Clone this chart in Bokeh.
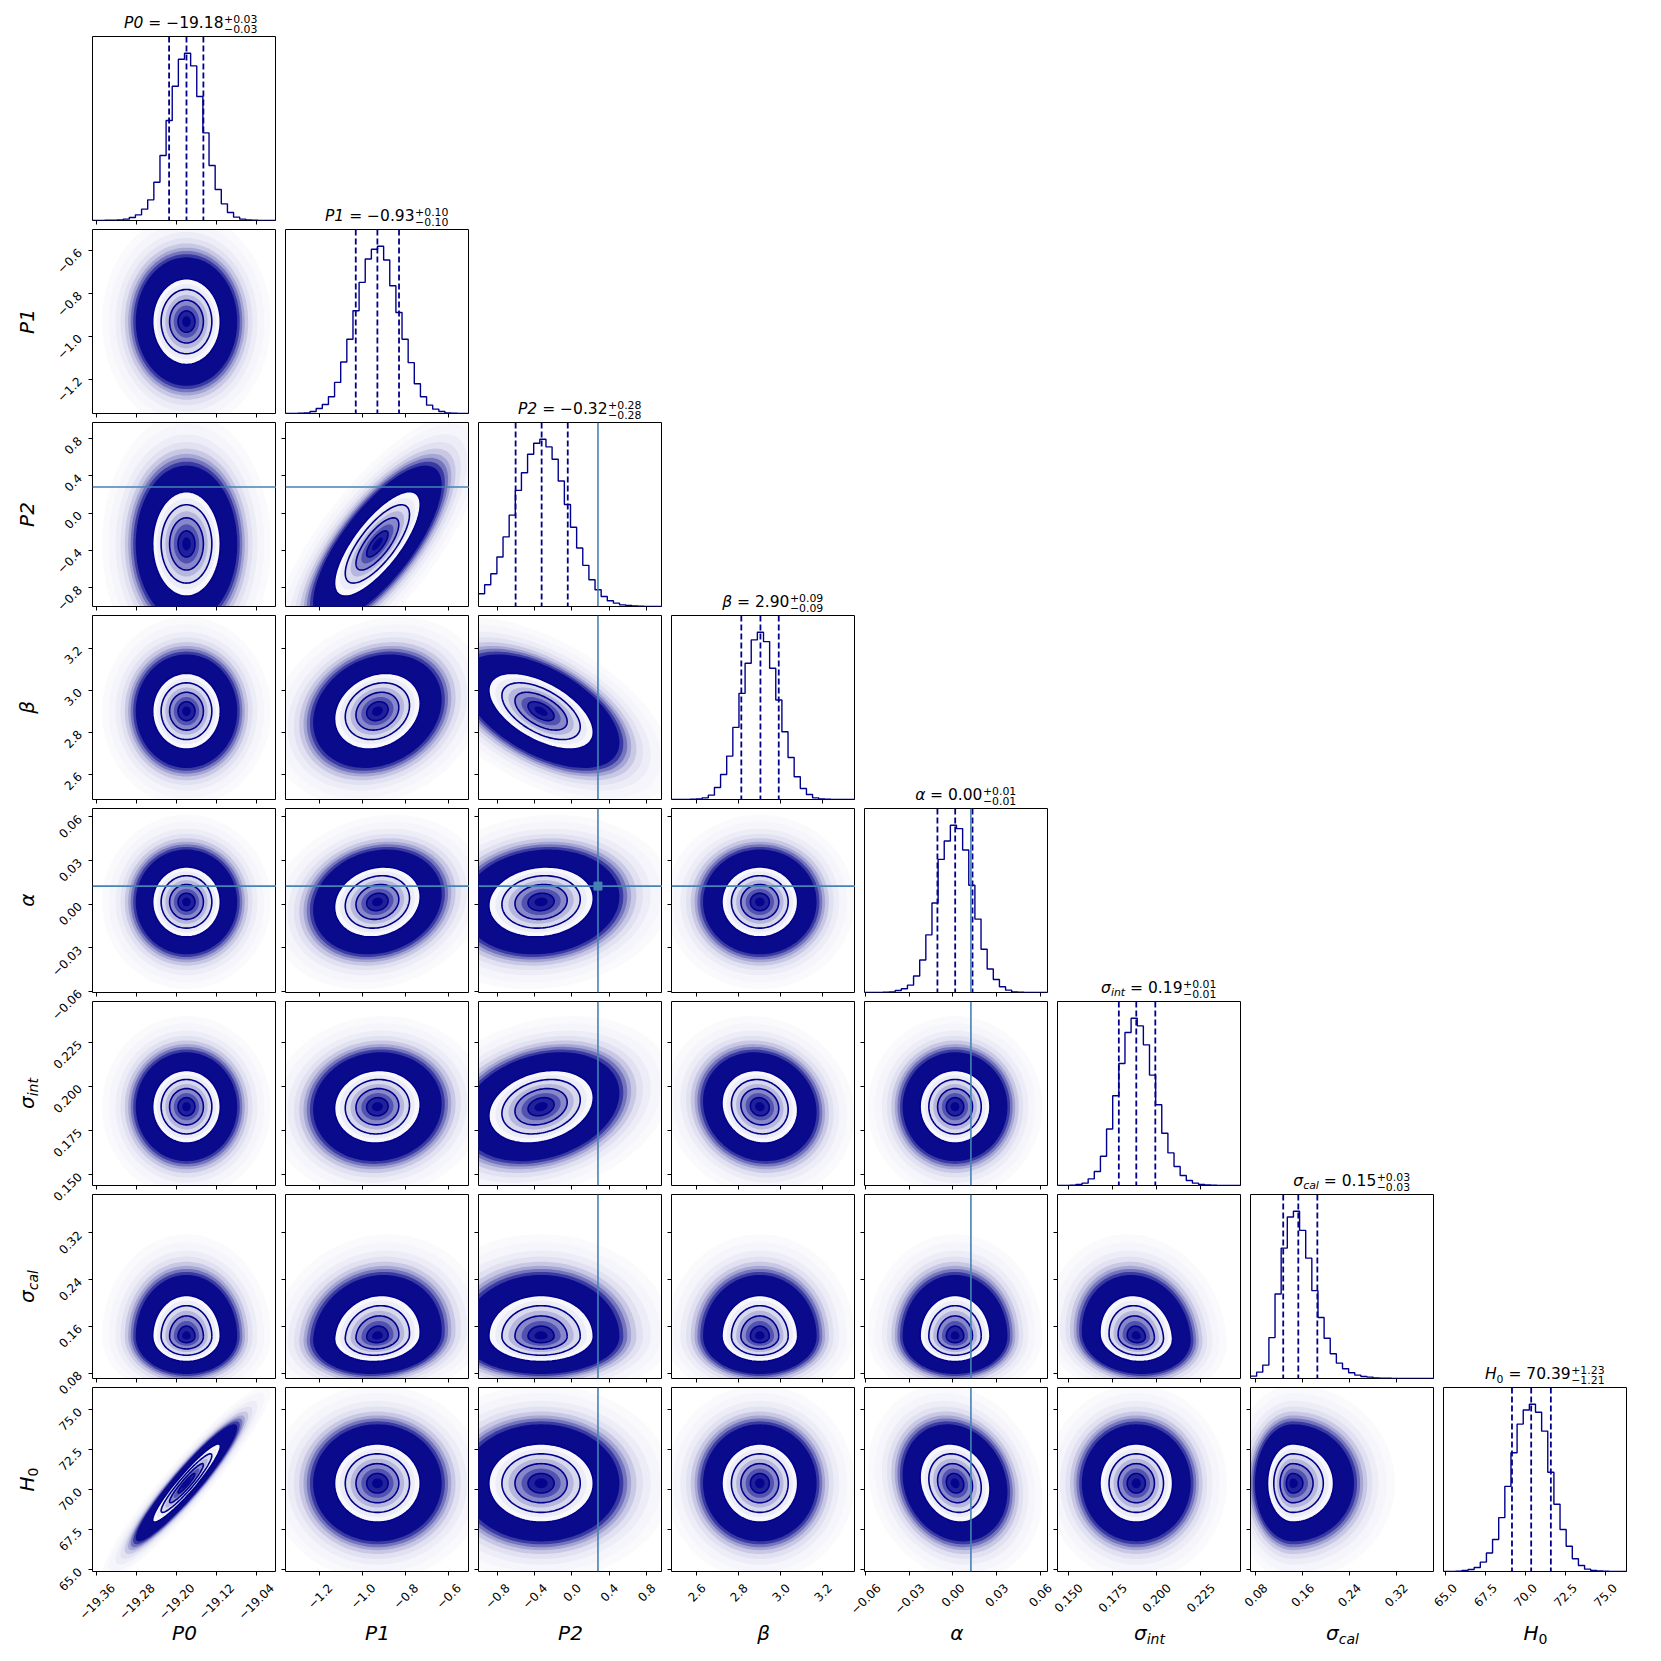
import math
import numpy as np
from bokeh.plotting import figure
from bokeh.models import GridBox, Range1d, FixedTicker, CustomJSTickFormatter, Span
from bokeh.core.properties import value
from bokeh.embed import file_html
from bokeh.resources import INLINE

# ------------------------------------------------------------------ data
PARAMS = ["P0", "P1", "P2", "beta", "alpha", "sigma_int", "sigma_cal", "H0"]
# label text: (text, style, role) ; role "sub" = subscript
LABEL_PIECES = [
    [("P0", "italic", "main")],
    [("P1", "italic", "main")],
    [("P2", "italic", "main")],
    [("β", "italic", "main")],
    [("α", "italic", "main")],
    [("σ", "italic", "main"), ("int", "italic", "sub")],
    [("σ", "italic", "main"), ("cal", "italic", "sub")],
    [("H", "italic", "main"), ("0", "normal", "sub")],
]
LO = [-19.369, -1.361, -1.001, 2.480, -0.0607, 0.1438, 0.0709, 64.89]
HI = [-18.999, -0.502, 0.972, 3.355, 0.0657, 0.2482, 0.3858, 76.39]

TICKS = [
    [-19.36, -19.28, -19.20, -19.12, -19.04],
    [-1.2, -1.0, -0.8, -0.6],
    [-0.8, -0.4, 0.0, 0.4, 0.8],
    [2.6, 2.8, 3.0, 3.2],
    [-0.06, -0.03, 0.0, 0.03, 0.06],
    [0.150, 0.175, 0.200, 0.225],
    [0.08, 0.16, 0.24, 0.32],
    [65.0, 67.5, 70.0, 72.5, 75.0],
]
TICK_DEC = [2, 1, 1, 1, 2, 3, 2, 1]

HIST_P0 = [0, 0, 1, 1, 2, 4, 9, 17, 34, 62, 115, 195, 300, 403, 484, 502, 464, 372, 263, 165, 93, 50, 24, 10, 4, 2, 1, 0, 0, 0]
HIST_P1 = [0, 0, 1, 2, 6, 15, 27, 50, 93, 154, 222, 307, 392, 462, 491, 500, 459, 382, 302, 222, 152, 89, 50, 25, 13, 6, 2, 1, 0, 0]
HIST_P2 = [38, 65, 98, 148, 208, 273, 347, 400, 455, 488, 500, 477, 440, 375, 305, 237, 175, 123, 80, 50, 30, 17, 10, 5, 3, 2, 1, 0, 0, 0]
HIST_BETA = [0, 0, 0, 1, 2, 5, 13, 36, 75, 130, 216, 318, 408, 478, 501, 473, 393, 298, 203, 126, 68, 33, 15, 5, 2, 1, 0, 0, 0, 0]
HIST_ALPHA = [0, 0, 0, 1, 2, 6, 11, 22, 49, 97, 172, 267, 397, 452, 499, 489, 425, 320, 219, 129, 70, 39, 17, 7, 2, 1, 0, 0, 0, 0]
HIST_SINT = [0, 0, 1, 3, 7, 20, 42, 88, 170, 270, 367, 460, 503, 480, 423, 332, 243, 157, 98, 57, 30, 15, 7, 3, 2, 1, 0, 0, 0, 0]
HIST_SCAL = [7, 19, 40, 122, 252, 389, 482, 499, 442, 359, 262, 182, 120, 74, 46, 29, 17, 10, 6, 4, 2, 1, 1, 0, 0, 0, 0, 0, 0, 0]
HIST_H0 = [0, 0, 1, 3, 6, 12, 28, 55, 95, 160, 253, 353, 438, 480, 497, 473, 417, 295, 200, 125, 75, 38, 18, 7, 3, 2, 1, 0, 0, 0]
HISTS = [HIST_P0, HIST_P1, HIST_P2, HIST_BETA, HIST_ALPHA, HIST_SINT, HIST_SCAL, HIST_H0]

Q16 = [-19.215, -1.033, -0.603, 2.812, -0.0106, 0.1786, 0.1269, 69.17]
Q50 = [-19.180, -0.932, -0.324, 2.903, 0.0016, 0.1885, 0.1527, 70.37]
Q84 = [-19.146, -0.831, -0.044, 2.990, 0.0135, 0.1993, 0.1853, 71.60]

TITLE_VAL = ["−19.18", "−0.93", "−0.32", "2.90", "0.00", "0.19", "0.15", "70.39"]
TITLE_PLUS = ["0.03", "0.10", "0.28", "0.09", "0.01", "0.01", "0.03", "1.23"]
TITLE_MINUS = ["0.03", "0.10", "0.28", "0.09", "0.01", "0.01", "0.03", "1.21"]

TRUTH = [None, None, 0.28, None, 0.0124, None, None, None]

# 2-D posterior shape: centre, lower/upper spread, correlations
CENTER = [-19.180, -0.932, -0.330, 2.900, 0.0015, 0.1885, 0.143, 70.40]
SIG_LO = [0.034, 0.100, 0.280, 0.090, 0.0120, 0.0103, 0.0215, 1.21]
SIG_HI = [0.034, 0.100, 0.280, 0.090, 0.0120, 0.0103, 0.0350, 1.23]
CORR = {
    (0, 7): 0.94,
    (1, 2): 0.75, (1, 3): 0.20, (1, 4): 0.15, (1, 5): 0.05, (1, 6): 0.10,
    (2, 3): -0.55, (2, 4): 0.10, (2, 5): 0.25,
    (3, 5): -0.10,
    (4, 7): -0.15,
    (5, 6): -0.10,
}

# ------------------------------------------------------------------ style / layout
FONT = "DejaVu Sans"
DARK = "#00008b"
CLOUD = "#0a0a8d"
TRUTH_COLOR = "#4682b4"
N = 8
FRAME = 184
GAP = 9
PITCH = FRAME + GAP
COL0_LB = 6
LW = 86
TH = 36
BH = 80
ROW7_BB = 5
RPAD = 20
LEFT_H = 7 * PITCH + FRAME + ROW7_BB + BH
BOT_W = LW + COL0_LB + FRAME + 7 * PITCH + RPAD
TICK_FS = 12
AX_FS = 20
AX_SUB_FS = 14
TITLE_FS = 15.5
SCRIPT_FS = 10.9
MID = 0.36          # ink middle of digits / capitals above the baseline, in em

# cloud of samples: cumulative opacity profile (radius in sigma, opacity)
CLOUD_PROFILE = [(5.0, 0.02), (4.6, 0.04), (4.2, 0.07), (3.9, 0.12), (3.65, 0.22),
                 (3.45, 0.36), (3.3, 0.56), (3.15, 0.80), (3.0, 1.0)]
SHADE_R = [2.0, 1.75, 1.5, 1.25, 1.0, 0.75, 0.5, 0.25]
CONTOUR_R = [2.0, 1.5, 1.0, 0.5]

ADV = {d: 1303 for d in "0123456789"}
ADV.update({".": 651, " ": 651, "=": 1716, "+": 1716, "−": 1716, "P": 1235, "H": 1540,
            "α": 1300, "β": 1300, "σ": 1300, "i": 569, "n": 1298, "t": 803, "c": 1126,
            "a": 1255, "l": 569})


def tw(s, size):
    return sum(ADV.get(ch, 1300) for ch in s) * size / 2048.0


def fmt(v, d):
    return f"{v:.{d}f}".replace("-", "−")


RNG = [Range1d(LO[k], HI[k]) for k in range(N)]
TT = np.linspace(0, 2 * np.pi, 121)[:-1]

# per-ring alpha from the cumulative profile
CLOUD_RINGS = []
_prev = 0.0
for _r, _o in CLOUD_PROFILE:
    _a = 1.0 if _o >= 1.0 else 1.0 - (1.0 - _o) / (1.0 - _prev)
    CLOUD_RINGS.append((_r, _a))
    _prev = _o


def ellipse(i, j, rad):
    rho = CORR.get((i, j), 0.0)
    u = rad * np.cos(TT)
    v = rad * (rho * np.cos(TT) + math.sqrt(1 - rho ** 2) * np.sin(TT))
    x = CENTER[i] + np.where(u > 0, u * SIG_HI[i], u * SIG_LO[i])
    y = CENTER[j] + np.where(v > 0, v * SIG_HI[j], v * SIG_LO[j])
    return [float(a) for a in x], [float(b) for b in y]


def mix(d):
    r = int(round(255 * (1 - d)))
    b = int(round(255 - (255 - 139) * d))
    return f"#{r:02x}{r:02x}{b:02x}"


def style_axis(ax, ticks):
    ax.ticker = FixedTicker(ticks=ticks)
    ax.major_tick_in = 0
    ax.major_tick_out = 4
    ax.major_tick_line_color = "black"
    ax.major_tick_line_width = 1
    ax.minor_tick_line_color = None
    ax.axis_line_color = None
    ax.major_label_text_font_size = "0px"
    ax.major_label_standoff = 0
    ax.formatter = CustomJSTickFormatter(code="return ''")


def blank(w, h, transparent=False):
    f = figure(frame_width=w, frame_height=h, x_range=Range1d(0, w), y_range=Range1d(0, h),
               min_border=0, min_border_left=0, min_border_right=0, min_border_top=0,
               min_border_bottom=0, toolbar_location=None, output_backend="svg", title=None,
               x_axis_location=None, y_axis_location=None)
    f.grid.visible = False
    f.outline_line_color = None
    if transparent:
        f.background_fill_color = None
        f.border_fill_color = None
    return f


def put(f, x, y, s, size, style="normal", angle=0.0):
    """(x, y) is the left end of the text baseline."""
    if angle == 0.0:
        ax_, ay_ = x, y + MID * size
    else:  # rotated a quarter turn, reading upwards
        ax_, ay_ = x - MID * size, y
    f.text(x=[ax_], y=[ay_], text=[s], text_font=value(FONT), text_font_size=value(f"{size}px"),
           text_font_style=style, text_align="left", text_baseline="middle", angle=angle,
           text_color="black")


def make_panel(r, c):
    lb = COL0_LB if c == 0 else GAP
    bb = ROW7_BB if r == N - 1 else GAP
    yr = Range1d(0, 1.1 * max(HISTS[c])) if r == c else RNG[r]
    p = figure(frame_width=FRAME, frame_height=FRAME, x_range=RNG[c], y_range=yr,
               min_border_left=lb, min_border_right=0, min_border_top=0, min_border_bottom=bb,
               toolbar_location=None, output_backend="svg", title=None,
               y_axis_location=None if r == c else "left")
    p.grid.visible = False
    p.outline_line_color = "black"
    p.outline_line_width = 1
    style_axis(p.xaxis[0], TICKS[c])
    if r != c:
        style_axis(p.yaxis[0], TICKS[r])
    return p


children = []

# ------------------------------------------------------------------ panels
for r in range(N):
    for c in range(r + 1):
        p = make_panel(r, c)
        if r == c:
            edges = [float(e) for e in np.linspace(LO[c], HI[c], len(HISTS[c]) + 1)]
            p.step(x=edges, y=HISTS[c] + [HISTS[c][-1]], mode="after", line_color=DARK, line_width=1.4)
            for q in (Q16[c], Q50[c], Q84[c]):
                p.add_layout(Span(location=q, dimension="height", line_color=DARK,
                                  line_width=1.8, line_dash="6 3"))
            if TRUTH[c] is not None:
                p.add_layout(Span(location=TRUTH[c], dimension="height", line_color=TRUTH_COLOR, line_width=1.6))
        else:
            xs, ys, al = [], [], []
            for rad, a in CLOUD_RINGS:
                ex, ey = ellipse(c, r, rad)
                xs.append(ex); ys.append(ey); al.append(a)
            p.patches(xs=xs, ys=ys, fill_color=CLOUD, fill_alpha=al, line_color=None)
            xs, ys, cols = [], [], []
            for rad in SHADE_R:
                ex, ey = ellipse(c, r, rad)
                xs.append(ex); ys.append(ey)
                cols.append(mix(math.exp(-(rad - 0.125) ** 2)))
            p.patches(xs=xs, ys=ys, fill_color=cols, line_color=None)
            xs, ys = [], []
            for rad in CONTOUR_R:
                ex, ey = ellipse(c, r, rad)
                xs.append(ex + [ex[0]]); ys.append(ey + [ey[0]])
            p.multi_line(xs=xs, ys=ys, line_color=DARK, line_width=1.6)
            if TRUTH[c] is not None:
                p.add_layout(Span(location=TRUTH[c], dimension="height", line_color=TRUTH_COLOR, line_width=1.6))
            if TRUTH[r] is not None:
                p.add_layout(Span(location=TRUTH[r], dimension="width", line_color=TRUTH_COLOR, line_width=1.6))
            if TRUTH[c] is not None and TRUTH[r] is not None:
                p.scatter(x=[TRUTH[c]], y=[TRUTH[r]], marker="square", size=8,
                          fill_color=TRUTH_COLOR, line_color=TRUTH_COLOR)
        children.append((p, r + 1, c + 1))


# ------------------------------------------------------------------ titles
def compose_title(f, cx, base, k):
    segs = []
    for txt, style, role in LABEL_PIECES[k]:
        if role == "main":
            segs.append((txt, TITLE_FS, style, 0.0))
        else:
            segs.append((txt, SCRIPT_FS, style, -3.0))
    gap = tw(" ", TITLE_FS)
    mid = "= " + TITLE_VAL[k]
    sup = "+" + TITLE_PLUS[k]
    sub = "−" + TITLE_MINUS[k]
    total = sum(tw(t, s) for t, s, _, _ in segs) + gap + tw(mid, TITLE_FS) + max(tw(sup, SCRIPT_FS), tw(sub, SCRIPT_FS))
    x = cx - total / 2
    for t, s, st, dy in segs:
        put(f, x, base + dy, t, s, st)
        x += tw(t, s)
    x += gap
    put(f, x, base, mid, TITLE_FS)
    x += tw(mid, TITLE_FS) + 0.5
    put(f, x, base + 5.7, sup, SCRIPT_FS)
    put(f, x, base - 4.3, sub, SCRIPT_FS)


TITLE_BASE = 8.0
t0 = blank(COL0_LB + FRAME, TH)
compose_title(t0, COL0_LB + FRAME / 2, TITLE_BASE, 0)
children.append((t0, 0, 1))
for k in range(1, N):
    tb = blank(GAP + FRAME, PITCH)
    compose_title(tb, GAP + FRAME / 2, TITLE_BASE, k)
    children.append((tb, k, k + 1))
children.append((blank(RPAD, TH), 0, N + 1))

# ------------------------------------------------------------------ left strip (y tick labels + y labels)
left = blank(LW, LEFT_H, transparent=True)
for r in range(1, N):
    top = LEFT_H - r * PITCH
    sub = left.subplot(x_source=Range1d(0, LW), y_source=RNG[r],
                       x_target=Range1d(0, LW), y_target=Range1d(top - FRAME, top))
    labels = [fmt(v, TICK_DEC[r]) for v in TICKS[r]]
    sub.text(x=[LW + COL0_LB - 12.8] * len(labels), y=TICKS[r], text=labels, angle=math.pi / 4,
             text_align="right", text_baseline="middle", text_font=value(FONT),
             text_font_size=value(f"{TICK_FS}px"), text_color="black")
    # axis label, rotated
    pieces = LABEL_PIECES[r]
    total = sum(tw(t, AX_FS if role == "main" else AX_SUB_FS) for t, _, role in pieces)
    y = top - FRAME / 2 - total / 2
    for t, st, role in pieces:
        size = AX_FS if role == "main" else AX_SUB_FS
        xb = 33.5 if role == "main" else 37.5
        put(left, xb, y, t, size, st, angle=math.pi / 2)
        y += tw(t, size)
children.append((left, 1, 0, 9, 1))

# ------------------------------------------------------------------ bottom strip (x tick labels + x labels)
bottom = blank(BOT_W, BH, transparent=True)
FB = BH + ROW7_BB            # frame bottom in strip coordinates
for c in range(N):
    x0 = LW + COL0_LB + c * PITCH
    sub = bottom.subplot(x_source=RNG[c], y_source=Range1d(0, BH),
                         x_target=Range1d(x0, x0 + FRAME), y_target=Range1d(0, BH))
    labels = [fmt(v, TICK_DEC[c]) for v in TICKS[c]]
    offs = [0.3535 * tw(l, TICK_FS) for l in labels]
    sub.text(x=TICKS[c], y=[FB - 11 - 3.2] * len(labels), text=labels, angle=math.pi / 4,
             x_offset=offs, text_align="right", text_baseline="middle", text_font=value(FONT),
             text_font_size=value(f"{TICK_FS}px"), text_color="black")
    pieces = LABEL_PIECES[c]
    total = sum(tw(t, AX_FS if role == "main" else AX_SUB_FS) for t, _, role in pieces)
    x = x0 + FRAME / 2 - total / 2
    for t, st, role in pieces:
        size = AX_FS if role == "main" else AX_SUB_FS
        yb = FB - 69 if role == "main" else FB - 73
        put(bottom, x, yb, t, size, st)
        x += tw(t, size)
children.append((bottom, 9, 0, 1, N + 2))

grid = GridBox(children=children, spacing=0)

with open("out.html", "w", encoding="utf-8") as fh:
    fh.write(file_html(grid, INLINE, title="corner plot"))
